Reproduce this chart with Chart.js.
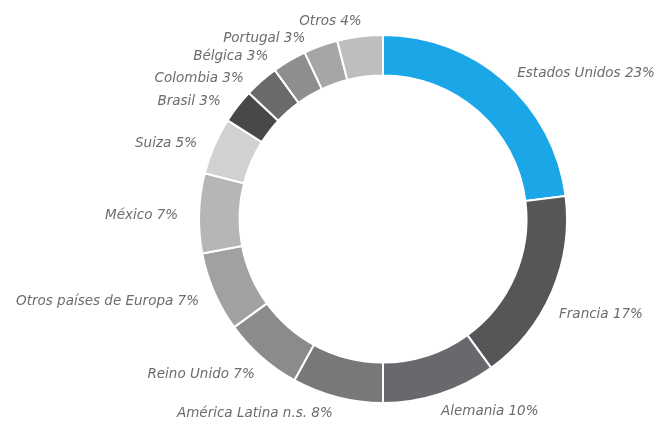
<!DOCTYPE html>
<html>
<head>
<meta charset="utf-8">
<script src="https://cdn.jsdelivr.net/npm/chart.js@4/dist/chart.umd.min.js"></script>
<style>
  html, body { margin: 0; padding: 0; background: #ffffff; }
  #wrap { width: 658px; height: 427px; position: relative; }
</style>
</head>
<body>
<div id="wrap"><canvas id="chart"></canvas></div>
<script>
// share by country, clockwise from 12 o'clock
const countries = ['Estados Unidos', 'Francia', 'Alemania', 'América Latina n.s.', 'Reino Unido',
    'Otros países de Europa', 'México', 'Suiza', 'Brasil', 'Colombia', 'Bélgica', 'Portugal', 'Otros'];
const shares = [23, 17, 10, 8, 7, 7, 7, 5, 3, 3, 3, 3, 4];
const sliceColors = ['#1ba6e8', '#565658', '#68696d', '#78787b', '#8b8b8d', '#a1a1a3', '#b5b6b8',
    '#d1d1d3', '#48484a', '#6a6a6c', '#8e8e90', '#a6a6a8', '#bebec0'];

// small hand tweaks so labels sit where the original puts them
const labelNudge = [[6, 0], [-2, 18], [-2, 8], [-2, 7], [0, 10], [-6, 5], [-11, 3],
    [-8, 2], [-9, 1], [-11, 5], [-16, 4], [-12, 2], [3, -5]];

// draws "Name NN%" next to each slice
const outsideLabels = {
    id: 'outsideLabels',
    afterDatasetsDraw(chart) {
        const ctx = chart.ctx;
        const arcs = chart.getDatasetMeta(0).data;
        ctx.save();
        ctx.font = 'oblique 13.5px "DejaVu Sans"';
        ctx.fillStyle = '#6c6c6e';
        ctx.textBaseline = 'middle';
        arcs.forEach((arc, i) => {
            const mid = (arc.startAngle + arc.endAngle) / 2;
            const r = arc.outerRadius + 10;
            const x = arc.x + Math.cos(mid) * r + labelNudge[i][0];
            const y = arc.y + Math.sin(mid) * r + labelNudge[i][1];
            ctx.textAlign = Math.cos(mid) >= 0 ? 'left' : 'right';
            ctx.fillText(countries[i] + ' ' + shares[i] + '%', x, y);
        });
        ctx.restore();
    }
};

new Chart(document.getElementById('chart'), {
    type: 'doughnut',
    data: {
        labels: countries,
        datasets: [{
            data: shares,
            backgroundColor: sliceColors,
            borderColor: '#ffffff',
            borderWidth: 2
        }]
    },
    options: {
        responsive: true,
        maintainAspectRatio: false,
        animation: false,
        cutout: '78%',
        layout: { padding: { left: 198, right: 90, top: 34, bottom: 23 } },
        plugins: {
            legend: { display: false },
            tooltip: { enabled: false }
        }
    },
    plugins: [outsideLabels]
});
</script>
</body>
</html>
